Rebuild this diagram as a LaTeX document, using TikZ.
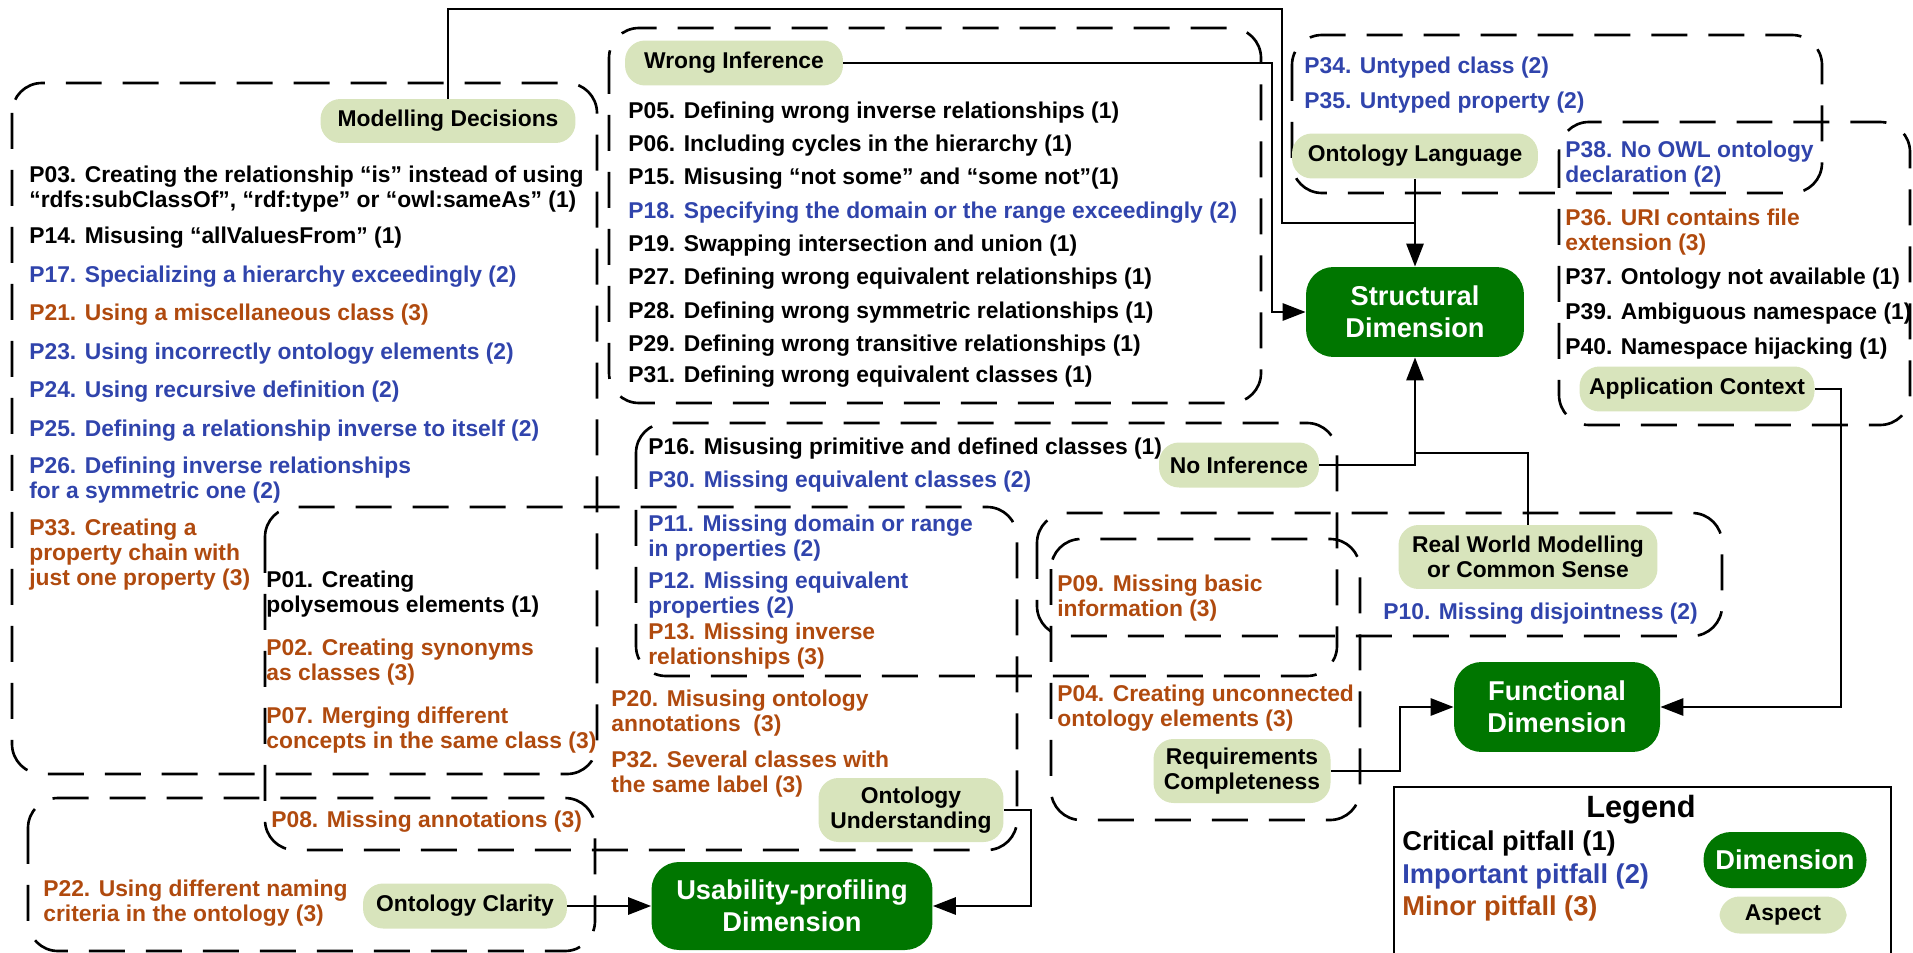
\documentclass[tikz,border=0pt]{standalone}
\usepackage{fontspec}
\setmainfont{Liberation Sans}
\usetikzlibrary{arrows.meta, positioning, calc}

\definecolor{dimgreen}{RGB}{0,118,0}
\definecolor{aspectgreen}{RGB}{216,228,188}
\definecolor{pitblue}{RGB}{48,68,172}
\definecolor{pitbrown}{RGB}{176,74,14}

\newcommand{\pitfont}{\fontsize{13}{14.2}\selectfont\bfseries}
\newcommand{\dimfont}{\fontsize{15.5}{18}\selectfont\bfseries}
\newcommand{\legfont}{\fontsize{15.5}{18}\selectfont\bfseries}

\begin{document}
\begin{tikzpicture}[x=0.02cm, y=-0.02cm,
    pit/.style={anchor=west, align=left, inner sep=0pt, font=\pitfont},
    crit/.style={pit, black},
    imp/.style={pit, pitblue},
    minor/.style={pit, pitbrown},
    aspect/.style={fill=aspectgreen, rounded corners=0.4cm, align=center, inner sep=0pt, font=\pitfont},
    dimension/.style={fill=dimgreen, text=white, rounded corners=0.55cm, align=center, inner sep=0pt, font=\dimfont},
    group/.style={line width=1.5pt, dash pattern=on 0.72cm off 0.42cm, rounded corners=0.6cm},
    conn/.style={line width=1.6pt},
    arr/.style={conn, -{Triangle[length=0.46cm, width=0.34cm]}}]
    % picture is laid out in pixels of the 1913 x 953 original
    \useasboundingbox (0,0) rectangle (1913,953);

    % Dashed groups, one per aspect
    \draw[group] (12,83) rectangle (597,774);     % Modelling Decisions
    \draw[group] (609,28) rectangle (1261,403);   % Wrong Inference
    \draw[group] (1292,35) rectangle (1822,193);  % Ontology Language
    \draw[group] (1559,122) rectangle (1910,425); % Application Context
    \draw[group] (636,423) rectangle (1337,676);  % No Inference
    \draw[group] (265,507) rectangle (1017,850);  % Ontology Understanding
    \draw[group] (28,798) rectangle (595,951);    % Ontology Clarity
    \draw[group] (1037,513) rectangle (1722,636); % Real World Modelling
    \draw[group] (1051,539) rectangle (1360,820); % Requirements Completeness

    % Dimensions
    \node[dimension, minimum width=4.36cm, minimum height=1.8cm] (str) at (1415,312) {Structural\\Dimension};
    \node[dimension, minimum width=4.12cm, minimum height=1.8cm] (fun) at (1557,707) {Functional\\Dimension};
    \node[dimension, minimum width=5.62cm, minimum height=1.76cm] (us) at (792,906) {Usability-profiling\\Dimension};

    % Aspects
    \node[aspect, minimum width=5.1cm, minimum height=0.88cm] (md) at (448,121) {Modelling Decisions};
    \node[aspect, minimum width=4.36cm, minimum height=0.9cm] (wi) at (734,63) {Wrong Inference};
    \node[aspect, minimum width=4.92cm, minimum height=0.9cm] (ol) at (1415,156) {Ontology Language};
    \node[aspect, minimum width=4.7cm, minimum height=0.9cm] (ac) at (1697,389) {Application Context};
    \node[aspect, minimum width=3.2cm, minimum height=0.9cm] (ni) at (1239,465) {No Inference};
    \node[aspect, minimum width=5.18cm, minimum height=1.28cm] (rw) at (1528,557) {Real World Modelling\\or Common Sense};
    \node[aspect, minimum width=3.54cm, minimum height=1.28cm] (rc) at (1242,771) {Requirements\\Completeness};
    \node[aspect, minimum width=3.7cm, minimum height=1.28cm] (oun) at (911,810) {Ontology\\Understanding};
    \node[aspect, minimum width=4.08cm, minimum height=0.9cm] (ocn) at (465,906) {Ontology Clarity};

    % Modelling Decisions pitfalls
    \node[crit] (p03) at (29,189) {P03. Creating the relationship “is” instead of using\\“rdfs:subClassOf”, “rdf:type” or “owl:sameAs” (1)};
    \node[crit] (p14) at (29,238) {P14. Misusing “allValuesFrom” (1)};
    \node[imp] (p17) at (29,277) {P17. Specializing a hierarchy exceedingly (2)};
    \node[minor] (p21) at (29,315) {P21. Using a miscellaneous class (3)};
    \node[imp] (p23) at (29,354) {P23. Using incorrectly ontology elements (2)};
    \node[imp] (p24) at (29,392) {P24. Using recursive definition (2)};
    \node[imp] (p25) at (29,431) {P25. Defining a relationship inverse to itself (2)};
    \node[imp] (p26) at (29,480) {P26. Defining inverse relationships\\for a symmetric one (2)};
    \node[minor] (p33) at (29,555) {P33. Creating a\\property chain with\\just one property (3)};
    \node[crit] (p01) at (266,594) {P01. Creating\\polysemous elements (1)};
    \node[minor] (p02) at (266,662) {P02. Creating synonyms\\as classes (3)};
    \node[minor] (p07) at (266,730) {P07. Merging different\\concepts in the same class (3)};

    % Wrong Inference pitfalls
    \node[crit] (p05) at (628,113) {P05. Defining wrong inverse relationships (1)};
    \node[crit] (p06) at (628,146) {P06. Including cycles in the hierarchy (1)};
    \node[crit] (p15) at (628,179) {P15. Misusing “not some” and “some not”(1)};
    \node[imp] (p18) at (628,213) {P18. Specifying the domain or the range exceedingly (2)};
    \node[crit] (p19) at (628,246) {P19. Swapping intersection and union (1)};
    \node[crit] (p27) at (628,279) {P27. Defining wrong equivalent relationships (1)};
    \node[crit] (p28) at (628,313) {P28. Defining wrong symmetric relationships (1)};
    \node[crit] (p29) at (628,346) {P29. Defining wrong transitive relationships (1)};
    \node[crit] (p31) at (628,377) {P31. Defining wrong equivalent classes (1)};

    % Ontology Language and Application Context pitfalls
    \node[imp] (p34) at (1304,68) {P34. Untyped class (2)};
    \node[imp] (p35) at (1304,103) {P35. Untyped property (2)};
    \node[imp] (p38) at (1565,164) {P38. No OWL ontology\\declaration (2)};
    \node[minor] (p36) at (1565,232) {P36. URI contains file\\extension (3)};
    \node[crit] (p37) at (1565,279) {P37. Ontology not available (1)};
    \node[crit] (p39) at (1565,314) {P39. Ambiguous namespace (1)};
    \node[crit] (p40) at (1565,349) {P40. Namespace hijacking (1)};

    % No Inference pitfalls
    \node[crit] (p16) at (648,449) {P16. Misusing primitive and defined classes (1)};
    \node[imp] (p30) at (648,482) {P30. Missing equivalent classes (2)};
    \node[imp] (p11) at (648,538) {P11. Missing domain or range\\in properties (2)};
    \node[imp] (p12) at (648,595) {P12. Missing equivalent\\properties (2)};
    \node[minor] (p13) at (648,646) {P13. Missing inverse\\relationships (3)};

    % Ontology Understanding and Ontology Clarity pitfalls
    \node[minor] (p20) at (611,713) {P20. Misusing ontology\\annotations\ \ (3)};
    \node[minor] (p32) at (611,774) {P32. Several classes with\\the same label (3)};
    \node[minor] (p08) at (271,822) {P08. Missing annotations (3)};
    \node[minor] (p22) at (43,903) {P22. Using different naming\\criteria in the ontology (3)};

    % Real World Modelling and Requirements Completeness pitfalls
    \node[minor] (p09) at (1057,598) {P09. Missing basic\\information (3)};
    \node[minor] (p04) at (1057,708) {P04. Creating unconnected\\ontology elements (3)};
    \node[imp] (p10) at (1383,614) {P10. Missing disjointness (2)};

    % Connectors to Structural Dimension
    \coordinate (mdtop) at (1282,9);
    \coordinate (oljoin) at (1415,223);
    \draw[conn] (md.north) |- (mdtop) |- (oljoin);
    \draw[arr] (ol.south) -- (str.north);
    \coordinate (witurn) at (1272,200);
    \draw[arr] (wi.east) -| (witurn) |- (str.west);
    \draw[arr] (ni.east) -| (str.south);
    \coordinate (rwjoin) at (1415,453);
    \draw[conn] (rw.north) |- (rwjoin);

    % Connectors to Functional Dimension
    \coordinate (acturn) at (1841,500);
    \draw[arr] (ac.east) -| (acturn) |- (fun.east);
    \coordinate (rcturn) at (1400,740);
    \draw[arr] (rc.east) -| (rcturn) |- (fun.west);

    % Connectors to Usability-profiling Dimension
    \coordinate (outurn) at (1031,850);
    \draw[arr] (oun.east) -| (outurn) |- (us.east);
    \draw[arr] (ocn.east) -- (us.west);

    % Legend
    \draw[line width=1.1pt] (1394,953) |- (1891,787) -- (1891,953);
    \node[font=\fontsize{17.5}{20}\selectfont\bfseries] (legtitle) at (1641,810) {Legend};
    \node[crit, font=\legfont] (legcrit) at (1402,843) {Critical pitfall (1)};
    \node[imp, font=\legfont] (legimp) at (1402,876) {Important pitfall (2)};
    \node[minor, font=\legfont] (legmin) at (1402,908) {Minor pitfall (3)};
    \node[dimension, minimum width=3.26cm, minimum height=1.12cm] (legdim) at (1785,860) {Dimension};
    \node[aspect, minimum width=2.54cm, minimum height=0.74cm] (legasp) at (1783,915) {Aspect};
\end{tikzpicture}
\end{document}
